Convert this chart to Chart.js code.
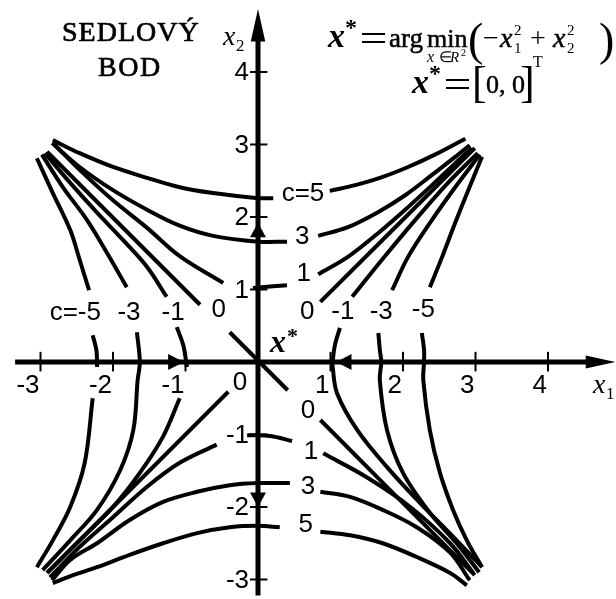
<!DOCTYPE html>
<html>
<head>
<meta charset="utf-8">
<script src="https://cdn.jsdelivr.net/npm/chart.js@4/dist/chart.umd.min.js"></script>
<style>
  html, body { margin: 0; padding: 0; background: #fff; }
  #c { display: block; }
</style>
</head>
<body>
<canvas id="c" width="616" height="599"></canvas>
<script>
// Level curves of f(x1, x2) = -x1^2 + x2^2 around the saddle point [0, 0].
// Each curve is a list of drawn pieces (broken where a level label sits).

const X_TICKS = [-3, -2, -1, 1, 2, 3, 4];
const Y_TICKS = [-3, -2, -1, 1, 2, 3, 4];

// c = 5
const c5Upper = [
  [[-2.83, 3.06], [-2.46, 2.88], [-2.00, 2.69], [-1.53, 2.54], [-1.08, 2.41], [-0.62, 2.33], [0, 2.26], [0.21, 2.26]],
  [[0.99, 2.36], [1.34, 2.44], [1.71, 2.55], [2.07, 2.69], [2.44, 2.86], [2.86, 3.08]]
];
const c5Lower = [
  [[-2.83, -3.05], [-2.55, -2.94], [-2.22, -2.83], [-1.77, -2.66], [-1.31, -2.50], [-0.84, -2.36], [-0.39, -2.28], [0, -2.26], [0.30, -2.28]],
  [[0.86, -2.34], [1.27, -2.39], [1.72, -2.50], [2.19, -2.69], [2.65, -2.91], [2.88, -3.08]]
];
// c = 3
const c3Upper = [
  [[-2.84, 3.02], [-2.46, 2.69], [-2.00, 2.37], [-1.53, 2.10], [-1.08, 1.88], [-0.62, 1.74], [0, 1.66], [0.40, 1.66]],
  [[0.83, 1.74], [1.24, 1.86], [1.66, 2.07], [2.03, 2.30], [2.40, 2.58], [2.72, 2.83], [2.92, 2.99]]
];
const c3Lower = [
  [[-2.84, -3.01], [-2.59, -2.73], [-2.22, -2.50], [-1.77, -2.18], [-1.31, -1.93], [-0.84, -1.79], [-0.39, -1.70], [0, -1.67], [0.44, -1.67]],
  [[0.86, -1.79], [1.27, -1.86], [1.72, -2.04], [2.19, -2.28], [2.65, -2.63], [2.92, -3.01]]
];
// c = 1
const c1Upper = [
  [[-2.80, 2.99], [-2.46, 2.65], [-2.00, 2.23], [-1.53, 1.85], [-1.08, 1.46], [-0.48, 1.09]],
  [[-0.07, 1.02], [0.40, 1.06]],
  [[0.83, 1.21], [1.24, 1.45], [1.66, 1.78], [2.03, 2.10], [2.40, 2.44], [2.72, 2.74], [2.95, 2.95]]
];
const c1Lower = [
  [[-2.87, -2.97], [-2.46, -2.55], [-2.00, -2.14], [-1.53, -1.72], [-1.08, -1.39], [-0.57, -1.14]],
  [[-0.15, -1.01], [0.17, -1.02], [0.47, -1.09]],
  [[0.90, -1.26], [1.50, -1.59], [2.10, -2.00], [2.65, -2.50], [2.97, -2.91]]
];
// c = 0 (the two asymptotes)
const c0Falling = [
  [[-2.91, 2.90], [-0.80, 0.79]],
  [[-0.39, 0.41], [0.41, -0.39]],
  [[0.86, -0.80], [2.99, -2.94]]
];
const c0Rising = [
  [[-2.90, -2.90], [-0.41, -0.41]],
  [[0.86, 0.83], [2.99, 2.95]]
];
// c = -1
const cm1Left = [
  [[-2.94, 2.88], [-2.59, 2.47], [-2.22, 2.06], [-1.86, 1.68], [-1.53, 1.31], [-1.26, 0.90]],
  [[-1.12, 0.48], [-1.03, 0.23], [-0.99, 0], [-0.98, -0.07]],
  [[-1.08, -0.50], [-1.31, -1.03], [-1.63, -1.53], [-2.00, -2.00], [-2.46, -2.46], [-2.91, -2.91]]
];
const cm1Right = [
  [[3.03, 2.88], [2.62, 2.47], [2.17, 1.96], [1.71, 1.41], [1.30, 0.90]],
  [[1.13, 0.47], [1.06, 0.23], [1.03, 0], [1.03, -0.07], [1.09, -0.43], [1.37, -0.94], [1.78, -1.45], [2.23, -1.94], [2.69, -2.41], [3.09, -2.83]]
];
// c = -3
const cm3Left = [
  [[-2.98, 2.86], [-2.69, 2.41], [-2.36, 1.96], [-2.08, 1.50], [-1.81, 1.03]],
  [[-1.67, 0.41], [-1.63, 0], [-1.66, -0.25], [-1.72, -0.94], [-1.90, -1.49], [-2.22, -2.04], [-2.59, -2.46], [-2.97, -2.87]]
];
const cm3Right = [
  [[3.06, 2.86], [2.72, 2.41], [2.40, 1.96], [2.07, 1.45], [1.85, 0.99]],
  [[1.66, 0.40], [1.68, 0.17], [1.70, 0], [1.68, -0.25], [1.78, -0.94], [2.00, -1.53], [2.37, -2.08], [2.74, -2.50], [3.05, -2.90]]
];
// c = -5
const cm5Left = [
  [[-3.05, 2.81], [-2.83, 2.33], [-2.59, 1.82], [-2.46, 1.41], [-2.33, 0.99]],
  [[-2.28, 0.37], [-2.23, 0.17], [-2.22, 0], [-2.22, -0.07]],
  [[-2.28, -0.50], [-2.39, -1.39], [-2.59, -2.00], [-2.83, -2.46], [-3.05, -2.83]]
];
const cm5Right = [
  [[3.09, 2.83], [2.90, 2.37], [2.72, 1.92], [2.54, 1.45], [2.37, 1.03]],
  [[2.26, 0.40], [2.29, 0.17], [2.29, 0], [2.28, -0.25], [2.37, -0.94], [2.51, -1.53], [2.69, -2.04], [2.88, -2.46], [3.09, -2.83]]
];

// Level labels: text and the point of the plane they are centred on
const levelLabels = [
  ['c=5', 0.62, 2.32], ['3', 0.61, 1.72], ['1', 0.63, 1.21],
  ['0', 0.68, 0.69], ['-1', 1.17, 0.69], ['-3', 1.70, 0.69], ['-5', 2.28, 0.72],
  ['c=-5', -2.52, 0.68], ['-3', -1.78, 0.68], ['-1', -1.17, 0.68], ['0', -0.54, 0.72],
  ['0', -0.25, -0.29],
  ['0', 0.69, -0.68], ['1', 0.73, -1.24], ['3', 0.69, -1.72], ['5', 0.66, -2.25]
];

const allCurves = [c5Upper, c5Lower, c3Upper, c3Lower, c1Upper, c1Lower,
                   c0Falling, c0Rising, cm1Left, cm1Right, cm3Left, cm3Right, cm5Left, cm5Right];

const datasets = [];
allCurves.forEach(curve => curve.forEach(piece => {
  datasets.push({
    data: piece.map(([x, y]) => ({ x, y })),
    showLine: true,
    borderColor: '#000',
    borderWidth: 4,
    borderCapStyle: 'butt',
    pointRadius: 0,
    tension: 0.35
  });
}));

const SERIF = '"Liberation Serif", "Times New Roman", serif';
const SANS = '"Liberation Sans", Arial, sans-serif';

const decor = {
  id: 'decor',
  beforeDatasetsDraw(chart) {
    const { ctx, scales: { x: xs, y: ys } } = chart;
    const X = v => xs.getPixelForValue(v);
    const Y = v => ys.getPixelForValue(v);
    const seg = (x1, y1, x2, y2) => { ctx.beginPath(); ctx.moveTo(x1, y1); ctx.lineTo(x2, y2); ctx.stroke(); };
    const tri = (a, b, c) => { ctx.beginPath(); ctx.moveTo(a[0], a[1]); ctx.lineTo(b[0], b[1]); ctx.lineTo(c[0], c[1]); ctx.closePath(); ctx.fill(); };
    ctx.save();
    ctx.strokeStyle = '#000';
    ctx.fillStyle = '#000';
    ctx.lineCap = 'butt';

    // axes
    ctx.lineWidth = 5;
    seg(X(-3.35), Y(0), X(4.6), Y(0));
    seg(X(0), Y(-3.22), X(0), Y(4.5));
    // axis end arrows
    tri([X(4.93), Y(0)], [X(4.52), Y(0.09)], [X(4.52), Y(-0.09)]);
    tri([X(0), Y(4.87)], [X(-0.1), Y(4.42)], [X(0.1), Y(4.42)]);

    // ticks
    ctx.lineWidth = 2;
    X_TICKS.forEach(t => seg(X(t), Y(0.14), X(t), Y(-0.13)));
    Y_TICKS.forEach(t => seg(X(-0.11), Y(t), X(0.13), Y(t)));

    // arrows toward the saddle point along the axes
    tri([X(0), Y(1.92)], [X(-0.11), Y(1.72)], [X(0.11), Y(1.72)]);
    tri([X(0), Y(-2.0)], [X(-0.11), Y(-1.8)], [X(0.11), Y(-1.8)]);
    tri([X(-1.02), Y(0)], [X(-1.24), Y(0.11)], [X(-1.24), Y(-0.11)]);
    tri([X(1.08), Y(0)], [X(1.29), Y(0.11)], [X(1.29), Y(-0.11)]);
    ctx.restore();
  },
  afterDatasetsDraw(chart) {
    const { ctx, scales: { x: xs, y: ys } } = chart;
    const X = v => xs.getPixelForValue(v);
    const Y = v => ys.getPixelForValue(v);
    const text = (s, x, y, font, align = 'left', base = 'alphabetic', spacing = '0px', weight = 0) => {
      ctx.font = font; ctx.textAlign = align; ctx.textBaseline = base;
      ctx.letterSpacing = spacing;
      ctx.fillText(s, x, y);
      if (weight) { ctx.lineWidth = weight; ctx.strokeText(s, x, y); }
      ctx.letterSpacing = '0px';
    };
    const eq = (x1, x2, y) => {
      ctx.lineWidth = 2;
      ctx.beginPath();
      ctx.moveTo(x1, y - 4); ctx.lineTo(x2, y - 4);
      ctx.moveTo(x1, y + 4); ctx.lineTo(x2, y + 4);
      ctx.stroke();
    };
    ctx.save();
    ctx.fillStyle = '#000';
    ctx.strokeStyle = '#000';

    // tick labels
    X_TICKS.forEach(t => text(String(t), X(t) - 1, Y(0) + 24, '26px ' + SANS, 'right', 'middle'));
    Y_TICKS.forEach(t => text(String(t), X(0) - 9, Y(t) + 1, '26px ' + SANS, 'right', 'middle'));

    // level labels
    levelLabels.forEach(([s, u, v]) => text(s, X(u), Y(v), '26px ' + SANS, 'center', 'middle'));

    // axis names
    text('x', 223, 45, 'italic 28px ' + SERIF);
    text('2', 236, 51, '17px ' + SERIF);
    text('x', 593, 393, 'italic 28px ' + SERIF);
    text('1', 606, 399, '17px ' + SERIF);

    // saddle point marker
    text('x', 270, 352, 'bold italic 32px ' + SERIF);
    text('*', 287, 343, 'bold 22px ' + SERIF);

    // title
    text('SEDLOVÝ', 62, 41, '28px ' + SERIF, 'left', 'alphabetic', '1px', 0.7);
    text('BOD', 98, 76, '28px ' + SERIF, 'left', 'alphabetic', '1.5px', 0.7);

    // x* = arg min over R^2 of (-x1^2 + x2^2)
    const B1 = 47;
    text('x', 328, B1, 'bold italic 34px ' + SERIF);
    text('*', 345, B1 - 12, 'bold 24px ' + SERIF);
    eq(362, 385, B1 - 9);
    text('arg', 389, B1, '27px ' + SERIF, 'left', 'alphabetic', '0px', 0.5);
    text('min', 427, B1, '26px ' + SERIF, 'left', 'alphabetic', '0px', 0.5);
    text('x', 427, B1 + 15, 'italic 16px ' + SERIF);
    text('\u2208', 439, B1 + 15, '15px ' + SERIF);
    text('R', 450, B1 + 15, 'italic 15px ' + SERIF);
    text('2', 461, B1 + 9, '10px ' + SERIF);
    text('(', 468, B1 + 8, '46px ' + SERIF);
    text('\u2212', 483, B1, '28px ' + SERIF);
    text('x', 500, B1, 'italic 28px ' + SERIF, 'left', 'alphabetic', '0px', 0.5);
    text('2', 514, B1 - 12, '15px ' + SERIF);
    text('1', 514, B1 + 6, '15px ' + SERIF);
    text('+', 530, B1, '28px ' + SERIF);
    text('x', 553, B1, 'italic 28px ' + SERIF, 'left', 'alphabetic', '0px', 0.5);
    text('2', 567, B1 - 12, '15px ' + SERIF);
    text('2', 567, B1 + 6, '15px ' + SERIF);
    text(')', 599, B1 + 8, '46px ' + SERIF);

    // x* = [0, 0]^T
    const B2 = 93;
    text('x', 412, B2, 'bold italic 34px ' + SERIF);
    text('*', 429, B2 - 12, 'bold 24px ' + SERIF);
    eq(446, 469, B2 - 9);
    text('[', 472, B2 + 4, '44px ' + SERIF);
    text('0, 0', 486, B2, '26px ' + SERIF, 'left', 'alphabetic', '0px', 0.5);
    text(']', 520, B2 + 4, '44px ' + SERIF);
    text('T', 533, B2 - 26, '16px ' + SERIF);
    ctx.restore();
  }
};

new Chart(document.getElementById('c'), {
  type: 'scatter',
  data: { datasets },
  options: {
    responsive: false,
    animation: false,
    events: [],
    layout: { padding: 0 },
    plugins: { legend: { display: false }, tooltip: { enabled: false } },
    scales: {
      x: { type: 'linear', min: -3.5586, max: 4.9379, display: false },
      y: { type: 'linear', min: -3.269, max: 4.993, display: false }
    }
  },
  plugins: [decor]
});
</script>
</body>
</html>
